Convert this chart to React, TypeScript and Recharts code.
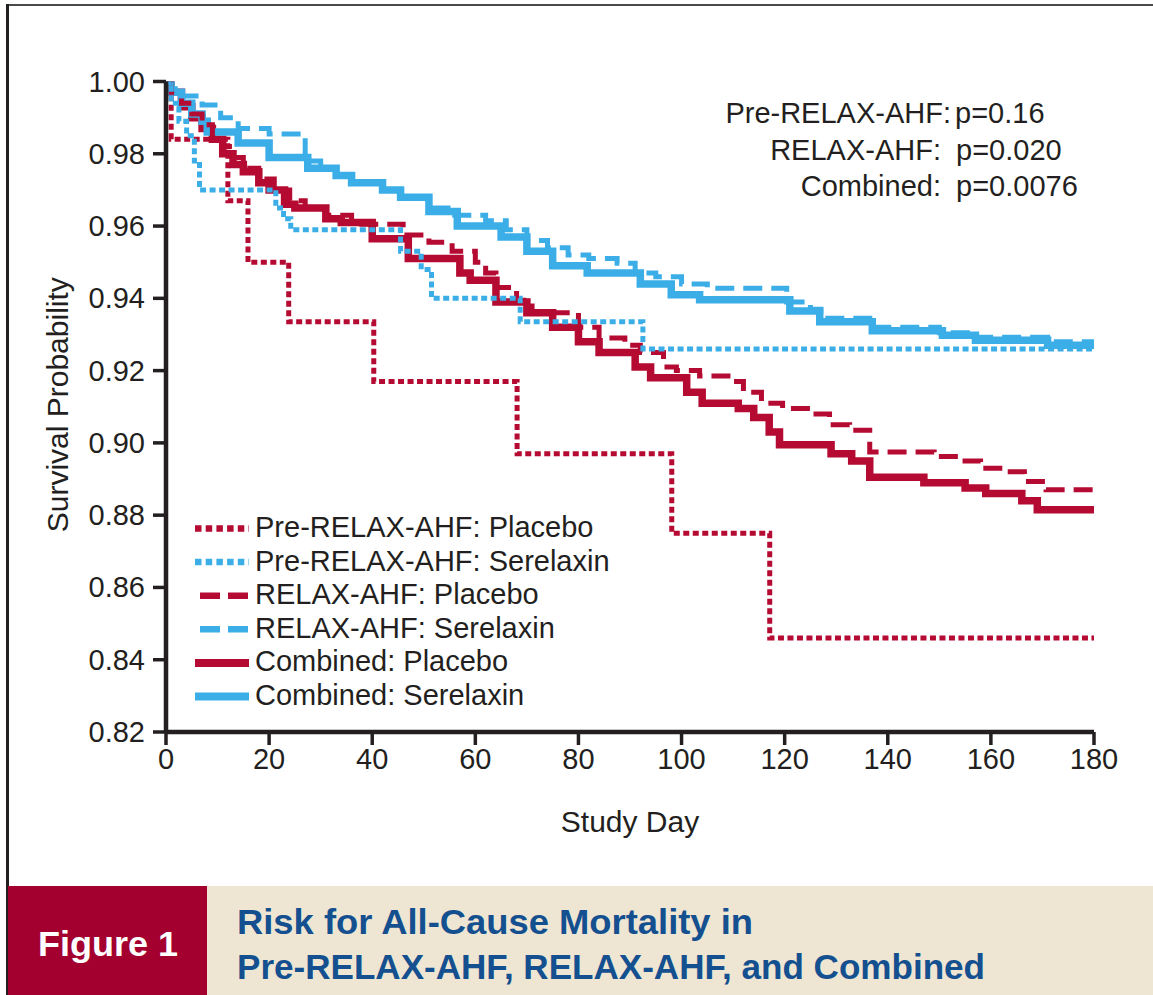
import React, { ReactElement } from "react";
import { LineChart, Line, XAxis, YAxis } from "recharts";

// [study day, survival probability] at each step of the KM curve
type Step = [number, number];

const xTicks = [0, 20, 40, 60, 80, 100, 120, 140, 160, 180];
const yTicks = [0.82, 0.84, 0.86, 0.88, 0.9, 0.92, 0.94, 0.96, 0.98, 1.0];

const prePlacebo: Step[] = [
  [0, 1], [1, 0.984], [12, 0.967], [15.9, 0.95], [23.8, 0.9335], [40.3, 0.917],
  [68.1, 0.897], [98.1, 0.875], [117.1, 0.846], [180, 0.846]
];

const preSerelaxin: Step[] = [
  [0, 1], [1, 0.994], [2.5, 0.989], [4, 0.985], [5.5, 0.978], [6.5, 0.97],
  [21.3, 0.965], [22.8, 0.962], [24.2, 0.959], [45.5, 0.953], [49.5, 0.948],
  [51.5, 0.94], [68.7, 0.9335], [92.5, 0.926], [180, 0.926]
];

const relaxPlacebo: Step[] = [
  [0, 1], [1, 0.997], [3, 0.994], [5, 0.991], [7, 0.988], [9, 0.985], [11, 0.982],
  [13, 0.979], [15, 0.976], [18, 0.973], [21, 0.97], [24, 0.967], [27, 0.965],
  [31, 0.963], [36, 0.9605], [46, 0.9575], [51, 0.9555], [55.5, 0.953], [60, 0.95],
  [62, 0.947], [64, 0.943], [68, 0.9395], [71, 0.936], [80, 0.932], [84, 0.929],
  [89, 0.927], [92, 0.925], [96.5, 0.921], [99, 0.92], [103.5, 0.9185], [109, 0.917],
  [112, 0.914], [115.5, 0.911], [119.6, 0.9095], [125, 0.908], [128.7, 0.905],
  [132.6, 0.9035], [136.5, 0.8975], [149, 0.8962], [154.5, 0.895], [158, 0.893],
  [163, 0.892], [166.5, 0.8893], [170.7, 0.887], [180, 0.887]
];

const relaxSerelaxin: Step[] = [
  [0, 1], [1, 0.998], [3, 0.996], [7, 0.9935], [10.6, 0.99], [14, 0.987],
  [20, 0.9855], [27, 0.978], [30, 0.976], [33, 0.974], [36, 0.972], [42, 0.97],
  [45.5, 0.968], [51, 0.965], [56, 0.963], [62, 0.9615], [66, 0.959], [70, 0.956],
  [74, 0.954], [78, 0.952], [82, 0.951], [87.5, 0.9497], [91, 0.947], [95, 0.946],
  [100, 0.944], [105, 0.9428], [120.4, 0.939], [125, 0.937], [127, 0.9345],
  [137, 0.932], [150, 0.9305], [157, 0.9292], [171, 0.928], [180, 0.928]
];

const combinedPlacebo: Step[] = [
  [0, 1], [1, 0.997], [3, 0.993], [5, 0.99], [7, 0.987], [9, 0.984], [11, 0.98],
  [13, 0.977], [15, 0.975], [18, 0.972], [20, 0.97], [23, 0.966], [25, 0.965],
  [31, 0.962], [34, 0.961], [40, 0.9565], [47, 0.951], [57, 0.947], [59, 0.945],
  [64, 0.939], [70, 0.936], [75, 0.932], [80, 0.928], [84, 0.925], [91, 0.921],
  [94, 0.918], [101, 0.914], [104, 0.911], [111, 0.9095], [114, 0.907], [117, 0.903],
  [119, 0.8995], [129, 0.897], [133, 0.895], [136.5, 0.8905], [147, 0.889],
  [155, 0.8875], [159, 0.886], [166, 0.884], [169, 0.8815], [180, 0.8815]
];

const combinedSerelaxin: Step[] = [
  [0, 1], [1, 0.997], [3, 0.994], [5, 0.991], [7, 0.989], [8, 0.986], [14, 0.983],
  [20, 0.979], [27.5, 0.976], [33, 0.974], [36, 0.972], [42, 0.97], [45.5, 0.968],
  [51, 0.964], [56.5, 0.96], [65, 0.957], [70, 0.953], [75, 0.949], [81.7, 0.947],
  [92, 0.944], [98, 0.941], [103.5, 0.9396], [121, 0.9365], [126.8, 0.9335],
  [137, 0.931], [150.6, 0.9298], [157, 0.9284], [171, 0.927], [180, 0.927]
];

const pLabels = ["Pre-RELAX-AHF:", "RELAX-AHF:", "Combined:"];
const pValues = ["p=0.16", "p=0.020", "p=0.0076"];

const RED = "#B50A31";
const BLUE = "#3BAEE8";
const INK = "#231F20";
const FONT = '"Liberation Sans", Arial, Helvetica, sans-serif';
const TXT = 29;

const DOT = "6 3.5";
const DASH = "19 9";

// legend order
const series = [
  { name: "Pre-RELAX-AHF: Placebo", data: prePlacebo, color: RED, width: 5, dash: DOT },
  { name: "Pre-RELAX-AHF: Serelaxin", data: preSerelaxin, color: BLUE, width: 5, dash: DOT },
  { name: "RELAX-AHF: Placebo", data: relaxPlacebo, color: RED, width: 5, dash: DASH },
  { name: "RELAX-AHF: Serelaxin", data: relaxSerelaxin, color: BLUE, width: 5, dash: DASH },
  { name: "Combined: Placebo", data: combinedPlacebo, color: RED, width: 7.5, dash: undefined },
  { name: "Combined: Serelaxin", data: combinedSerelaxin, color: BLUE, width: 7.5, dash: undefined }
];

// solid curves underneath, dotted on top
const drawOrder = [4, 5, 2, 3, 0, 1];

const toPoints = (steps: Step[]) => steps.map(([day, surv]) => ({ day, surv }));

function XTick(props: any) {
  const { x, y, payload } = props;
  return (
    <text x={x} y={y + 21} textAnchor="middle" fontSize={TXT} fontFamily={FONT} fill={INK}>
      {payload.value}
    </text>
  );
}

function YTick(props: any) {
  const { x, y, payload } = props;
  return (
    <text x={x} y={y + 10} textAnchor="end" fontSize={TXT} fontFamily={FONT} fill={INK}>
      {Number(payload.value).toFixed(2)}
    </text>
  );
}

function Overlay(): ReactElement {
  const legendTop = 537;
  const rowGap = 33.6;
  return (
    <svg width={1153} height={870} style={{ position: "absolute", left: 0, top: 0, pointerEvents: "none" }}>
      {series.map((s, i) => {
        const base = legendTop + i * rowGap;
        return (
          <g key={s.name}>
            <line
              x1={s.dash === DASH ? 200 : 195}
              x2={249}
              y1={base - 8.5}
              y2={base - 8.5}
              stroke={s.color}
              strokeWidth={s.dash ? 6.5 : 8}
              strokeDasharray={s.dash === DOT ? "6.5 4.2" : s.dash === DASH ? "20 8" : undefined}
            />
            <text x={255} y={base} fontSize={TXT} fontFamily={FONT} fill={INK}>
              {s.name}
            </text>
          </g>
        );
      })}
      {pLabels.map((label, i) => (
        <g key={label}>
          <text x={i === 0 ? 951 : 941} y={123 + i * 36.5} textAnchor="end" fontSize={TXT} fontFamily={FONT} fill={INK}>
            {label}
          </text>
          <text x={i === 0 ? 955 : 956} y={123 + i * 36.5} fontSize={TXT} fontFamily={FONT} fill={INK}>
            {pValues[i]}
          </text>
        </g>
      ))}
    </svg>
  );
}

function Footer(): ReactElement {
  return (
    <svg width={1153} height={109} style={{ position: "absolute", left: 0, top: 886 }}>
      <rect x={8} y={0} width={199} height={109} fill="#A3002F" />
      <rect x={207} y={0} width={946} height={109} fill="#EEE6D3" />
      <text x={38} y={70} fontSize={35} fontWeight="bold" fontFamily={FONT} fill="#FFFFFF"
        textLength={140} lengthAdjust="spacingAndGlyphs">
        Figure 1
      </text>
      <text x={237} y={48} fontSize={35} fontWeight="bold" fontFamily={FONT} fill="#14508F"
        textLength={516} lengthAdjust="spacingAndGlyphs">
        Risk for All-Cause Mortality in
      </text>
      <text x={237} y={93} fontSize={35} fontWeight="bold" fontFamily={FONT} fill="#14508F"
        textLength={748} lengthAdjust="spacingAndGlyphs">
        Pre-RELAX-AHF, RELAX-AHF, and Combined
      </text>
    </svg>
  );
}

export default function App(): ReactElement {
  return (
    <div style={{ position: "absolute", left: 0, top: 0, width: 1153, height: 995, background: "#fff", overflow: "hidden" }}>
      {/* figure frame */}
      <div style={{ position: "absolute", left: 8, top: 4, width: 1145, height: 2, background: "#4a4a4a" }} />
      <div style={{ position: "absolute", left: 6, top: 4, width: 3, height: 991, background: INK }} />

      <div style={{ position: "absolute", left: 0, top: 0 }}>
        <LineChart width={1153} height={870} margin={{ top: 81.5, right: 59, bottom: 38, left: 66 }}>
          <XAxis
            dataKey="day"
            type="number"
            domain={[0, 180]}
            ticks={xTicks}
            height={100}
            tickSize={13}
            tickMargin={3}
            tick={<XTick />}
            axisLine={{ stroke: INK, strokeWidth: 4.5 }}
            tickLine={{ stroke: INK, strokeWidth: 3.5 }}
            allowDataOverflow
            label={(p: any) => (
              <text
                x={p.viewBox.x + p.viewBox.width / 2}
                y={p.viewBox.y + 100}
                textAnchor="middle"
                fontSize={30}
                fontFamily={FONT}
                fill={INK}
              >
                Study Day
              </text>
            )}
          />
          <YAxis
            dataKey="surv"
            type="number"
            domain={[0.82, 1]}
            ticks={yTicks}
            width={100}
            tickSize={13}
            tickMargin={8}
            tick={<YTick />}
            axisLine={{ stroke: INK, strokeWidth: 4.5 }}
            tickLine={{ stroke: INK, strokeWidth: 3.5 }}
            allowDataOverflow
            label={(p: any) => {
              const cx = p.viewBox.x - 9;
              const cy = p.viewBox.y + p.viewBox.height / 2 - 2;
              return (
                <text
                  x={cx}
                  y={cy}
                  transform={`rotate(-90, ${cx}, ${cy})`}
                  textAnchor="middle"
                  dominantBaseline="central"
                  fontSize={30}
                  fontFamily={FONT}
                  fill={INK}
                >
                  Survival Probability
                </text>
              );
            }}
          />
          {drawOrder.map((idx) => {
            const s = series[idx];
            return (
              <Line
                key={s.name}
                name={s.name}
                data={toPoints(s.data)}
                dataKey="surv"
                type="stepAfter"
                stroke={s.color}
                strokeWidth={s.width}
                strokeDasharray={s.dash}
                strokeLinecap="butt"
                dot={false}
                activeDot={false}
                isAnimationActive={false}
              />
            );
          })}
        </LineChart>
      </div>
      <Overlay />
      <Footer />
    </div>
  );
}
